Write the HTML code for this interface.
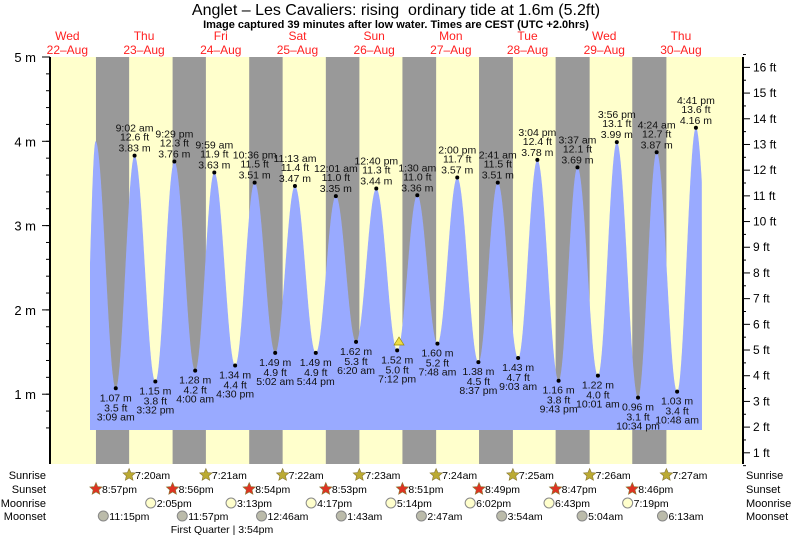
<!DOCTYPE html>
<html><head><meta charset="utf-8"><style>
body{margin:0;background:#fff;}
svg{display:block;font-family:"Liberation Sans",sans-serif;}
</style></head><body>
<svg id="chart" width="793" height="538" viewBox="0 0 793 538">
<text x="396" y="15" text-anchor="middle" font-size="16">Anglet – Les Cavaliers: rising&#160; ordinary tide at 1.6m (5.2ft)</text>
<text x="396" y="28" text-anchor="middle" font-size="11" font-weight="bold">Image captured 39 minutes after low water. Times are CEST (UTC +2.0hrs)</text>
<g id="bg"></g><g id="fill"></g><g id="marks"></g><g id="axes"></g><g id="rows"></g>
</svg>
<script>
const days=["Wed","Thu","Fri","Sat","Sun","Mon","Tue","Wed","Thu"];
const dates=["22–Aug","23–Aug","24–Aug","25–Aug","26–Aug","27–Aug","28–Aug","29–Aug","30–Aug"];
const tideDay=[0,1,1,1,1,2,2,2,2,3,3,3,4,4,4,4,5,5,5,5,6,6,6,6,7,7,7,7,8,8,8];
const tideTime=["8:50 pm","3:09 am","9:02 am","3:32 pm","9:29 pm","4:00 am","9:59 am","4:30 pm","10:36 pm","5:02 am","11:13 am","5:44 pm","12:01 am","6:20 am","12:40 pm","7:12 pm","1:30 am","7:48 am","2:00 pm","8:37 pm","2:41 am","9:03 am","3:04 pm","9:43 pm","3:37 am","10:01 am","3:56 pm","10:34 pm","4:24 am","10:48 am","4:41 pm"];
const tideM=[4.0,1.07,3.83,1.15,3.76,1.28,3.63,1.34,3.51,1.49,3.47,1.49,3.35,1.62,3.44,1.52,3.36,1.60,3.57,1.38,3.51,1.43,3.78,1.16,3.69,1.22,3.99,0.96,3.87,1.03,4.16];
const tideFt=["","3.5","12.6","3.8","12.3","4.2","11.9","4.4","11.5","4.9","11.4","4.9","11.0","5.3","11.3","5.0","11.0","5.2","11.7","4.5","11.5","4.7","12.4","3.8","12.1","4.0","13.1","3.1","12.7","3.4","13.6"];
const sunriseTimes=["7:20am","7:21am","7:22am","7:23am","7:24am","7:25am","7:26am","7:27am"];
const sunsetTimes=["8:57pm","8:56pm","8:54pm","8:53pm","8:51pm","8:49pm","8:47pm","8:46pm"];
const moonriseDay=[1,2,3,4,5,6,7];
const moonriseTimes=["2:05pm","3:13pm","4:17pm","5:14pm","6:02pm","6:43pm","7:19pm"];
const moonsetDay=[0,1,3,4,5,6,7,8];
const moonsetTimes=["11:15pm","11:57pm","12:46am","1:43am","2:47am","3:54am","5:04am","6:13am"];
const mTicks=[1,2,3,4,5];
const ftTicks=[1,2,3,4,5,6,7,8,9,10,11,12,13,14,15,16];

const NS="http://www.w3.org/2000/svg";
const X0=29,PXH=76.7/24,Y0=478.5,PXM=84.3;
const PL=50,PR=743,PT=57,PB=464;
function xs(h){return X0+h*PXH;}
function ym(m){return Y0-m*PXM;}
function hrs(s){const m=s.match(/(\d+):(\d+)\s*(am|pm)/);let h=+m[1]%12;if(m[3]=="pm")h+=12;return h+ +m[2]/60;}
function el(p,t,a,txt){const e=document.createElementNS(NS,t);for(const k in a)e.setAttribute(k,a[k]);if(txt!=null)e.textContent=txt;p.appendChild(e);return e;}
const bg=document.getElementById('bg'),fill=document.getElementById('fill'),marks=document.getElementById('marks'),axes=document.getElementById('axes'),rows=document.getElementById('rows');

let r=el(bg,'rect',{x:PL,y:PT,width:PR-PL,height:PB-PT,fill:'#ffffcc'});


for(let i=0;i<sunsetTimes.length;i++){
  const a=xs(i*24+hrs(sunsetTimes[i])),b=xs((i+1)*24+hrs(sunriseTimes[i]));
  const n=el(bg,'rect',{x:a,y:PT,width:b-a,height:PB-PT,fill:'#999999'});
  
  
}
for(let i=0;i<days.length;i++){
  const g=el(bg,'g',{});
  
  
  el(g,'text',{x:xs(i*24+12),y:40,'text-anchor':'middle','font-size':12,fill:'#ff2020'},days[i]);
  el(g,'text',{x:xs(i*24+12),y:54,'text-anchor':'middle','font-size':12,fill:'#ff2020'},dates[i]);
}
const T=tideTime.map((t,i)=>tideDay[i]*24+hrs(t));
function w(f){return (1-Math.cos(Math.PI*f))/2;}
function h(t){
  for(let i=0;i<T.length-1;i++){if(t>=T[i]&&t<=T[i+1]){const f=(t-T[i])/(T[i+1]-T[i]);return tideM[i]+(tideM[i+1]-tideM[i])*w(f);}}
  if(t<T[0]){const f=Math.min((T[0]-t)/3.5,1);return tideM[0]-(tideM[0]-1.1)*w(f);}
  const n=T.length-1,f=Math.min((t-T[n])/6.2,1);return tideM[n]-(tideM[n]-1.0)*w(f);
}
const tS=(90-X0)/PXH,tE=(702-X0)/PXH,base=ym(0.575);
let d=`M${xs(tS)},${base}`;
for(let t=tS;t<=tE;t+=0.05)d+=` L${xs(t).toFixed(1)},${Math.min(base,ym(h(t))).toFixed(1)}`;
d+=` L${xs(tE)},${base}Z`;
const p=el(fill,'path',{d:d,fill:'#99aaff'});


for(let i=1;i<T.length;i++){
  const x=xs(T[i]),y=ym(tideM[i]),hi=tideM[i]>2.5;
  const g=el(marks,'g',{'font-size':10.5,'text-anchor':'middle',fill:'#111'});
  
  
  el(g,'circle',{cx:x,cy:y,r:2,fill:'#000'});
  const m=tideM[i].toFixed(2)+' m',f=tideFt[i]+' ft';
  if(hi){el(g,'text',{x:x,y:y-24},tideTime[i]);el(g,'text',{x:x,y:y-15},f);el(g,'text',{x:x,y:y-4},m);}
  else{el(g,'text',{x:x,y:y+13},m);el(g,'text',{x:x,y:y+23},f);el(g,'text',{x:x,y:y+32},tideTime[i]);}
}
const tri=el(marks,'polygon',{points:'399,337 394,345 404,345',fill:'#eedd44',stroke:'#998800','stroke-width':0.7});


el(axes,'line',{x1:PL,y1:PT,x2:PL,y2:PB,stroke:'#000','stroke-width':2});
el(axes,'line',{x1:PR,y1:PT,x2:PR,y2:PB,stroke:'#000','stroke-width':2});
for(let v=0.6;v<=5.001;v+=0.2){el(axes,'line',{x1:PL-4,y1:ym(v),x2:PL,y2:ym(v),stroke:'#000'});}
for(const v of mTicks){
  el(axes,'line',{x1:PL-8,y1:ym(v),x2:PL,y2:ym(v),stroke:'#000'});
  const t=el(axes,'text',{x:36,y:ym(v)+5,'text-anchor':'end','font-size':13},v+' m');
  
  
}
for(let v=0.5;v<=16.5;v+=0.5){el(axes,'line',{x1:PR,y1:ym(v*0.3048),x2:PR+(v%1?3:7),y2:ym(v*0.3048),stroke:'#000'});}
for(const v of ftTicks){
  const t=el(axes,'text',{x:753,y:ym(v*0.3048)+4,'font-size':12},v+' ft');
  
  
}
const RY={sr:475,ss:489,mr:503,ms:516};
[["Sunrise",RY.sr],["Sunset",RY.ss],["Moonrise",RY.mr],["Moonset",RY.ms]].forEach(([n,y])=>{
  const a=el(rows,'text',{x:46,y:y+4,'text-anchor':'end','font-size':11},n);
  
  
  const b=el(rows,'text',{x:746,y:y+4,'font-size':11},n);
  
  
});
function star(x,y,c){let s='';for(let k=0;k<10;k++){const a=-Math.PI/2+k*Math.PI/5,rr=k%2?3:6.5;s+=(x+rr*Math.cos(a)).toFixed(1)+','+(y+rr*Math.sin(a)).toFixed(1)+' ';}return el(rows,'polygon',{points:s,fill:c,stroke:'#887733','stroke-width':0.6});}
function item(t,y,txt,kind){
  const x=xs(t);let ic;
  if(kind=='sr')ic=star(x,y,'#bbaa33');
  else if(kind=='ss')ic=star(x,y,'#dd3322');
  else ic=el(rows,'circle',{cx:x,cy:y,r:5,fill:kind=='mr'?'#ffffcc':'#bbbbaa',stroke:'#888'});
  
  
  const tx=el(rows,'text',{x:x+6,y:y+4,'font-size':10.5},txt);
  
  
}
sunriseTimes.forEach((s,i)=>item((i+1)*24+hrs(s),RY.sr,s,'sr'));
sunsetTimes.forEach((s,i)=>item(i*24+hrs(s),RY.ss,s,'ss'));
moonriseTimes.forEach((s,i)=>item(moonriseDay[i]*24+hrs(s),RY.mr,s,'mr'));
moonsetTimes.forEach((s,i)=>item(moonsetDay[i]*24+hrs(s),RY.ms,s,'ms'));
const fq=el(rows,'text',{x:222,y:533,'text-anchor':'middle','font-size':10.5},'First Quarter | 3:54pm');


</script>
</body></html>
